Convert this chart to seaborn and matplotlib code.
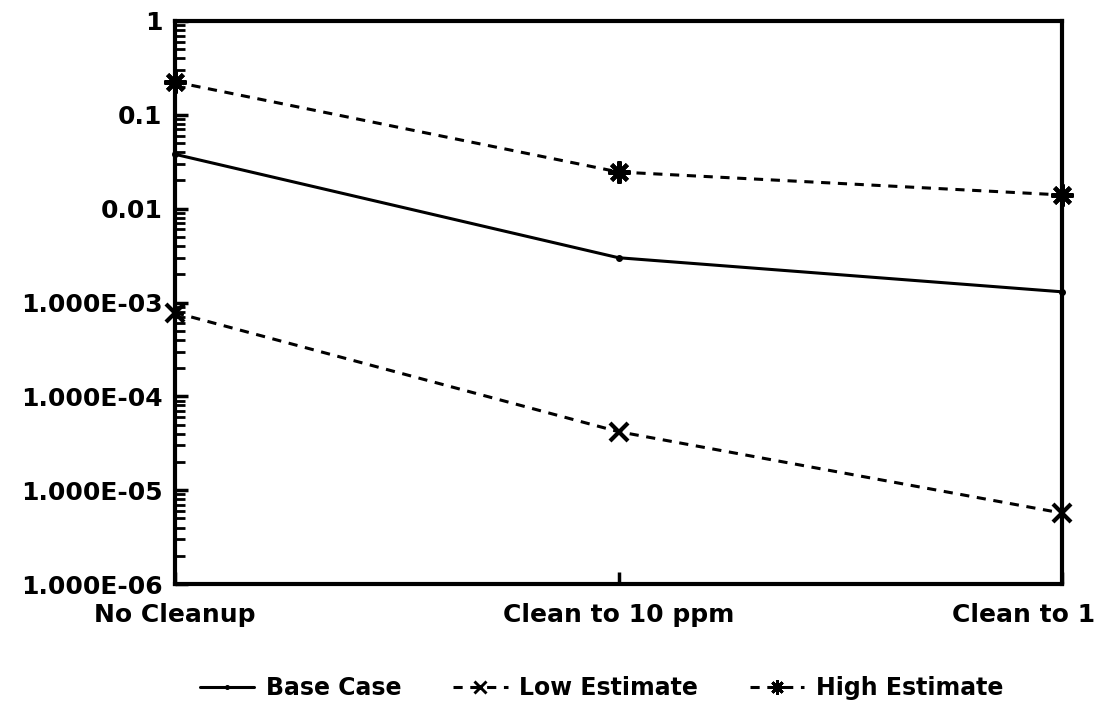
import numpy as np
import pandas as pd
import matplotlib
matplotlib.use("Agg")
import matplotlib.pyplot as plt
import matplotlib.transforms as mtransforms
from matplotlib.lines import Line2D
from matplotlib.ticker import LogLocator, FixedLocator, NullFormatter
import seaborn as sns

categories = ["No Cleanup", "Clean to 10 ppm", "Clean to 1"]
base_case = [0.038, 0.0030, 0.0013]
low_estimate = [0.00078, 4.2e-5, 5.7e-6]
high_estimate = [0.224, 0.0246, 0.014]
series_names = ["Base Case", "Low Estimate", "High Estimate"]
y_tick_values = [1e-6, 1e-5, 1e-4, 1e-3, 1e-2, 1e-1, 1]
y_tick_labels = ["1.000E-06", "1.000E-05", "1.000E-04", "1.000E-03", "0.01", "0.1", "1"]

sns.set_theme(style="white")
plt.rcParams["font.family"] = ["DejaVu Sans"]
plt.rcParams["font.weight"] = "bold"
plt.rcParams["text.color"] = "black"
plt.rcParams["xtick.color"] = "black"
plt.rcParams["ytick.color"] = "black"
plt.rcParams["xtick.labelcolor"] = "black"
plt.rcParams["ytick.labelcolor"] = "black"

rows = []
for name, vals in zip(series_names, [base_case, low_estimate, high_estimate]):
    for i, (c, v) in enumerate(zip(categories, vals)):
        rows.append({"pos": i, "category": c, "value": v, "series": name})
df = pd.DataFrame(rows)

fig = plt.figure(figsize=(11.02, 7.05), dpi=100)
ax = fig.add_axes([175 / 1102, 1 - 584 / 705, (1062 - 175) / 1102, (584 - 21) / 705])

asterisk = (8, 2, 0)
dash = (0, (3, 2.5))
styles = {
    "Base Case": dict(ls="-", marker="o", ms=4, mew=1),
    "Low Estimate": dict(ls=dash, marker="x", ms=13, mew=3),
    "High Estimate": dict(ls=dash, marker=asterisk, ms=16, mew=3),
}
for name in series_names:
    sub = df[df["series"] == name]
    st = styles[name]
    sns.lineplot(data=sub, x="pos", y="value", ax=ax, color="black", lw=2.2,
                 linestyle=st["ls"], marker=st["marker"], markersize=st["ms"],
                 markeredgewidth=st["mew"], markeredgecolor="black",
                 markerfacecolor="black", clip_on=False, legend=False)

ax.set_yscale("log")
ax.set_ylim(1e-6, 1)
ax.set_xlim(0, len(categories) - 1)
ax.yaxis.set_major_locator(FixedLocator(y_tick_values))
ax.set_yticklabels(y_tick_labels)
ax.yaxis.set_minor_locator(LogLocator(base=10, subs=np.arange(2, 10)))
ax.yaxis.set_minor_formatter(NullFormatter())
ax.set_xticks(range(len(categories)))
ax.set_xticklabels(categories)
ax.set_xlabel("")
ax.set_ylabel("")

ax.tick_params(axis="y", which="major", direction="in", length=9, width=2.5,
               labelsize=18, pad=9, left=True, right=False, color="black",
               labelcolor="black")
ax.tick_params(axis="y", which="minor", direction="in", length=7, width=2,
               left=True, right=False, color="black")
ax.tick_params(axis="x", which="major", direction="in", length=9, width=2.5,
               labelsize=18, pad=14, bottom=True, top=False, color="black",
               labelcolor="black")
for lab in ax.get_yticklabels() + ax.get_xticklabels():
    lab.set_fontweight("bold")
    lab.set_color("black")

# shift last x label to stay inside the figure
last = ax.get_xticklabels()[-1]
last.set_transform(last.get_transform() + mtransforms.ScaledTranslation(-0.38, 0, fig.dpi_scale_trans))

for sp in ax.spines.values():
    sp.set_color("black")
    sp.set_linewidth(3)

handles = []
for name in series_names:
    st = styles[name]
    handles.append(Line2D([], [], color="black", lw=2.2, linestyle=st["ls"],
                          marker=st["marker"], markersize=st["ms"] * 0.65,
                          markeredgewidth=max(1, st["mew"] * 0.7),
                          markeredgecolor="black", markerfacecolor="black"))
leg = ax.legend(handles, series_names, loc="center", bbox_to_anchor=(0.481, -0.185),
                ncol=3, frameon=False, fontsize=17, handlelength=2.3,
                columnspacing=2.2, handletextpad=0.5, borderpad=0.2)
for t in leg.get_texts():
    t.set_fontweight("bold")
    t.set_color("black")

fig.savefig("out.png", dpi=100, facecolor="white")
